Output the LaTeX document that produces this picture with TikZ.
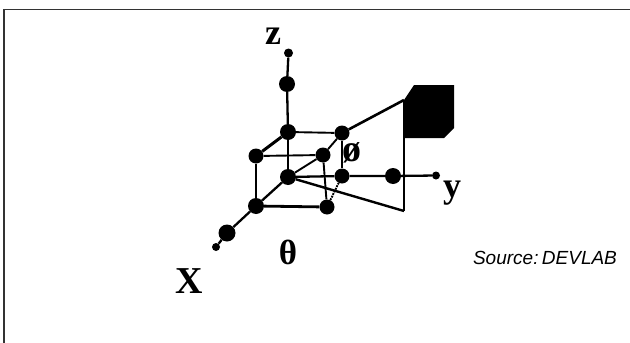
\documentclass[tikz,border=0pt]{standalone}
\usepackage{fontspec}
\setmainfont{Liberation Serif}
\newfontfamily\srcfont{Liberation Sans}
\begin{document}
\begin{tikzpicture}[x=1pt,y=-1pt,
  dot/.style={circle,fill=black,inner sep=0pt,minimum size=#1},
  dot/.default=15pt,
  axis/.style={draw=black,line width=2.3pt},
  edge/.style={draw=black,line width=1.9pt},
  lab/.style={font=\bfseries,inner sep=0pt,anchor=center}]
\useasboundingbox (0,0) rectangle (630,343);
\fill[white] (0,0) rectangle (630,343);
\coordinate (fa) at (4,343);
\coordinate (fb) at (4,9.5);
\coordinate (fc) at (630,9.5);
\draw[line width=1.4pt,black!80] (fa) -- (fb) -- (fc);
% panel
\fill[black] (414,85) -- (454,85) -- (454,128) -- (444,138) -- (404,138) -- (404,100) -- cycle;
\node[dot=9pt] (ztop) at (288.5,53) {};
\node[dot=16pt] (z2) at (287,84) {};
\node[dot=16pt] (bt) at (288,132) {};
\node[dot=16pt] (o) at (288,177) {};
\node[dot=15pt] (flt) at (256,156) {};
\node[dot=16pt] (flb) at (256,206) {};
\node[dot=15pt] (frt) at (323,155) {};
\node[dot=15pt] (frb) at (327,207) {};
\node[dot=15pt] (brt) at (342,133) {};
\node[dot=15pt] (brb) at (342,176) {};
\node[dot=16pt] (yd) at (393,176) {};
\node[dot=8pt] (yend) at (436,175.5) {};
\node[dot=17pt] (xd) at (227,233) {};
\node[dot=8pt] (xend) at (216,247) {};
\coordinate (pt) at (404,100);
\coordinate (pb) at (404,211);
% axes
\draw[axis] (ztop) -- (z2);
\draw[axis] (z2) -- (bt);
\draw[axis] (bt) -- (o);
\draw[axis] (o) -- (brb) -- (yd) -- (yend);
\draw[axis] (o) -- (flb) -- (xd) -- (xend);
\draw[edge] (bt) -- (brt);
\draw[edge,line width=3pt] (bt) -- (flt);
\draw[edge] (flt) -- (frt);
\draw[edge] (flt) -- (flb);
\draw[edge,line width=2.8pt] (flb) -- (frb);
\draw[edge] (frt) -- (frb);
\draw[edge] (brt) -- (brb);
\draw[edge] (brt) -- (frt);
\draw[edge] (frt) -- (o);
\draw[edge,densely dotted] (frb) -- (brb);
\draw[edge,line width=2.6pt] (brt) -- (pt);
\draw[edge] (pt) -- (pb);
\draw[edge,line width=2.4pt] (o) -- (pb);
% labels
\node[lab,font=\bfseries\fontsize{36}{36}\selectfont] (lz) at (273,36) {z};
\node[lab,font=\bfseries\fontsize{36}{36}\selectfont] (ly) at (452,193) {y};
\node[lab,font=\bfseries\fontsize{38}{38}\selectfont] (lx) at (189,281) {X};
\node[lab,font=\bfseries\fontsize{35}{35}\selectfont] (lt) at (288,252) {θ};
\node[lab,font=\bfseries\fontsize{38}{38}\selectfont] (lp) at (352,153) {ø};
\node[inner sep=0pt,anchor=center,font=\srcfont\itshape\fontsize{19}{19}\selectfont] (src) at (545,258) {Source:\hspace{0.18em}DEVLAB};
\end{tikzpicture}
\end{document}
